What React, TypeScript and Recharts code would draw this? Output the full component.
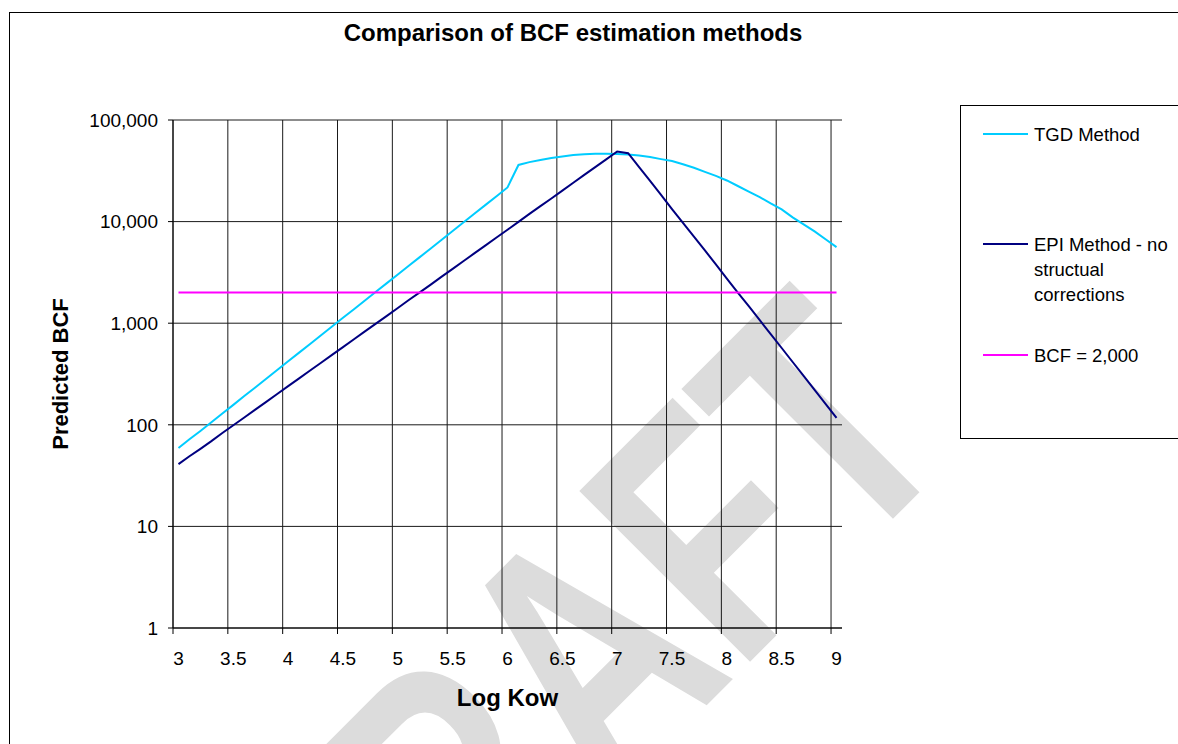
import React from 'react';
import { LineChart, Line, XAxis, YAxis, CartesianGrid, Legend } from 'recharts';

// Log Kow categories, one every 0.1
const logKow = [
  3.0, 3.1, 3.2, 3.3, 3.4, 3.5, 3.6, 3.7, 3.8, 3.9,
  4.0, 4.1, 4.2, 4.3, 4.4, 4.5, 4.6, 4.7, 4.8, 4.9,
  5.0, 5.1, 5.2, 5.3, 5.4, 5.5, 5.6, 5.7, 5.8, 5.9,
  6.0, 6.1, 6.2, 6.3, 6.4, 6.5, 6.6, 6.7, 6.8, 6.9,
  7.0, 7.1, 7.2, 7.3, 7.4, 7.5, 7.6, 7.7, 7.8, 7.9,
  8.0, 8.1, 8.2, 8.3, 8.4, 8.5, 8.6, 8.7, 8.8, 8.9,
  9.0,
];

// predicted BCF
const tgdMethod = [
  59, 72, 87, 106, 129, 157, 192, 233, 284, 346,
  422, 513, 625, 761, 927, 1130, 1370, 1670, 2040, 2480,
  3020, 3670, 4470, 5440, 6630, 8070, 9840, 12000, 14600, 17800,
  21700, 36100, 38500, 40300, 42200, 43700, 45200, 46100, 46600, 46600,
  46200, 45700, 44700, 43200, 41200, 39400, 36700, 33900, 30900, 28200,
  25400, 22400, 19700, 17400, 15100, 13200, 11000, 9400, 8000, 6700,
  5600,
];

const epiMethod = [
  41, 49, 58, 69, 83, 99, 118, 141, 168, 201,
  240, 286, 342, 408, 488, 582, 695, 830, 991, 1180,
  1410, 1690, 2010, 2400, 2870, 3430, 4090, 4890, 5830, 6970,
  8320, 9930, 11900, 14200, 16900, 20200, 24100, 28800, 34400, 41000,
  49000, 47100, 34400, 25100, 18300, 13300, 9700, 7100, 5200, 3800,
  2750, 2000, 1470, 1070, 780, 570, 415, 303, 221, 161,
  117,
];

const bcfCutoff = 2000;

const xTickValues = [3, 3.5, 4, 4.5, 5, 5.5, 6, 6.5, 7, 7.5, 8, 8.5, 9];
const yTickValues = [1, 10, 100, 1000, 10000, 100000];

const seriesNames = {
  tgd: 'TGD Method',
  epi: 'EPI Method - no structual corrections',
  cutoff: 'BCF = 2,000',
};
const legendOrder = [seriesNames.tgd, seriesNames.epi, seriesNames.cutoff];

const data = logKow.map((x, i) => ({
  x,
  tgd: tgdMethod[i],
  epi: epiMethod[i],
  cutoff: bcfCutoff,
}));

const FONT = '"Liberation Sans", Arial, Helvetica, sans-serif';
const W = 1178;
const H = 744;
const MARGIN = { top: 120, right: 336, bottom: 26, left: 0 };
const Y_AXIS_W = 173;
const X_AXIS_H = 90;
const X_DOMAIN: [number, number] = [2.95, 9.05];
const STEP = 0.1;
const PLOT_W = W - MARGIN.left - MARGIN.right - Y_AXIS_W;
// excel category axis: gridlines sit between categories, half a step before the label
const HALF_STEP_PX = ((STEP / 2) * PLOT_W) / (X_DOMAIN[1] - X_DOMAIN[0]);
const X_TICK_SIZE = 6;
const X_TICK_GAP = 18;
const TICK_FONT = 19;

const gridVerticals = ({ offset }: any) =>
  xTickValues.map(
    (t) => offset.left + ((t - STEP / 2 - X_DOMAIN[0]) / (X_DOMAIN[1] - X_DOMAIN[0])) * offset.width
  );

const XTick = (props: any) => {
  const { x, y, payload } = props;
  const lineX = x - HALF_STEP_PX;
  const axisY = y - X_TICK_SIZE - X_TICK_GAP;
  return (
    <g>
      <line x1={lineX} x2={lineX} y1={axisY} y2={axisY + X_TICK_SIZE} stroke="#000" />
      <text x={x} y={y} dy="0.7em" textAnchor="middle" fontSize={TICK_FONT} fontFamily={FONT} fill="#000">
        {String(payload.value)}
      </text>
    </g>
  );
};

const YTitle = (props: any) => {
  const { viewBox } = props;
  const cx = viewBox.x + 60;
  const cy = viewBox.y + viewBox.height / 2;
  return (
    <text
      x={cx}
      y={cy}
      transform={`rotate(-90 ${cx} ${cy})`}
      textAnchor="middle"
      dominantBaseline="central"
      fontSize={22}
      fontWeight="bold"
      fontFamily={FONT}
      fill="#000"
    >
      Predicted BCF
    </text>
  );
};

const legendRowTops = [15.5, 125.5, 236.5];

const renderLegend = (props: any) => {
  const items = [...(props.payload || [])].sort(
    (a: any, b: any) => legendOrder.indexOf(a.value) - legendOrder.indexOf(b.value)
  );
  return (
    <div
      style={{
        position: 'relative',
        width: 240,
        height: 334,
        border: '1px solid #000',
        boxSizing: 'border-box',
        fontFamily: FONT,
        fontSize: 18.5,
        color: '#000',
      }}
    >
      {items.map((entry: any, i: number) => (
        <div
          key={String(entry.value)}
          style={{ position: 'absolute', left: 22, top: legendRowTops[i], display: 'flex', alignItems: 'flex-start' }}
        >
          <span style={{ display: 'block', width: 45, height: 2, background: entry.color, marginTop: 11.5, flex: 'none' }} />
          <span style={{ display: 'block', marginLeft: 6, width: 140, lineHeight: '25px' }}>{entry.value}</span>
        </div>
      ))}
    </div>
  );
};

const App: React.FC = () => {
  return (
    <div
      style={{
        position: 'absolute',
        left: 0,
        top: 0,
        width: W,
        height: H,
        overflow: 'hidden',
        background: '#fff',
        fontFamily: FONT,
      }}
    >
      {/* chart frame, only its left and top edges fall inside the picture */}
      <div style={{ position: 'absolute', left: 9, top: 12, width: 1300, height: 900, border: '1px solid #000' }} />
      <div
        style={{
          position: 'absolute',
          left: 565,
          top: 675,
          transform: 'translate(-50%, -50%) rotate(-45deg) scale(1, 1.35)',
          fontSize: 260,
          lineHeight: '260px',
          fontWeight: 'bold',
          color: '#dcdcdc',
          whiteSpace: 'nowrap',
        }}
      >
        DRAFT
      </div>
      <div
        style={{
          position: 'absolute',
          left: 0,
          top: 21,
          width: 1146,
          textAlign: 'center',
          fontSize: 24,
          lineHeight: '24px',
          fontWeight: 'bold',
          color: '#000',
        }}
      >
        Comparison of BCF estimation methods
      </div>
      <div style={{ position: 'absolute', left: 0, top: 0 }}>
        <LineChart width={W} height={H} data={data} margin={MARGIN}>
          <CartesianGrid stroke="#1a1a1a" verticalCoordinatesGenerator={gridVerticals} />
          <XAxis
            dataKey="x"
            type="number"
            domain={X_DOMAIN}
            ticks={xTickValues}
            interval={0}
            height={X_AXIS_H}
            tickSize={X_TICK_SIZE}
            tickMargin={X_TICK_GAP}
            tickLine={false}
            tick={<XTick />}
            axisLine={{ stroke: '#000' }}
            label={{
              value: 'Log Kow',
              position: 'insideBottom',
              offset: 12,
              fontSize: 24,
              fontWeight: 'bold',
              fontFamily: FONT,
              fill: '#000',
            }}
          />
          <YAxis
            scale="log"
            domain={[1, 100000]}
            ticks={yTickValues}
            interval={0}
            allowDataOverflow
            width={Y_AXIS_W}
            tickSize={5}
            tickMargin={10}
            tickLine={{ stroke: '#000' }}
            axisLine={{ stroke: '#000' }}
            tickFormatter={(v: number) => Number(v).toLocaleString('en-US')}
            tick={{ fontSize: TICK_FONT, fill: '#000', fontFamily: FONT }}
            label={YTitle}
          />
          <Legend
            layout="vertical"
            align="center"
            verticalAlign="middle"
            content={renderLegend}
            wrapperStyle={{ left: 960, top: 105, width: 240, height: 334 }}
          />
          <Line
            type="linear"
            dataKey="tgd"
            name={seriesNames.tgd}
            stroke="#00ccff"
            strokeWidth={2}
            dot={false}
            isAnimationActive={false}
          />
          <Line
            type="linear"
            dataKey="epi"
            name={seriesNames.epi}
            stroke="#000080"
            strokeWidth={2}
            dot={false}
            isAnimationActive={false}
          />
          <Line
            type="linear"
            dataKey="cutoff"
            name={seriesNames.cutoff}
            stroke="#ff00ff"
            strokeWidth={2}
            dot={false}
            isAnimationActive={false}
          />
        </LineChart>
      </div>
    </div>
  );
};

export default App;
